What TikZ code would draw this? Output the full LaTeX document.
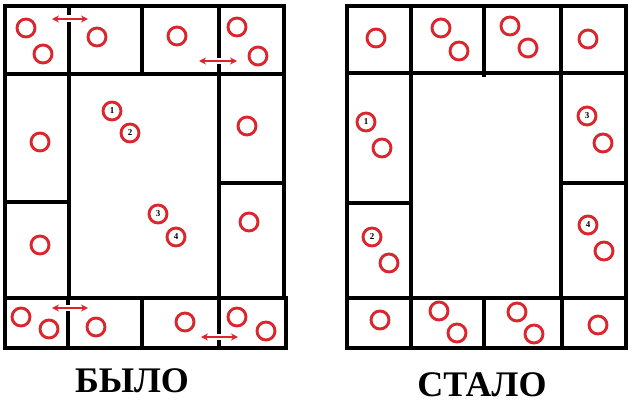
\documentclass[tikz,border=0pt]{standalone}
\usepackage{fontspec}
\setmainfont{Liberation Serif}
\usetikzlibrary{arrows.meta}
\definecolor{seatred}{RGB}{218,38,44}
\tikzset{
  wall/.style={line width=3.6pt, line cap=rect},
  seat/.style={circle, draw=seatred, line width=2.9pt, minimum size=18pt, inner sep=0pt, font=\fontsize{9}{9}\selectfont\bfseries},
  swap/.style={draw=seatred, line width=1.7pt, {Stealth[length=7pt,width=7pt]}-{Stealth[length=7pt,width=7pt]}},
  caption/.style={font=\fontsize{36}{36}\selectfont\bfseries}
}
\begin{document}
\begin{tikzpicture}[x=1pt,y=-1pt]
\useasboundingbox (0,0) rectangle (640,405);
% ---------- BEFORE ----------
\draw[wall] (5,6) -- (284,6);
\draw[wall] (5,6) -- (5,348) -- (286,348);
\draw[wall] (284,6) -- (284,298);
\draw[wall] (286,298) -- (286,348);
\draw[wall] (5,74) -- (284,74);
\draw[wall] (69,6) -- (69,13);
\draw[wall] (69,24) -- (69,298);
\draw[wall] (142,6) -- (142,74);
\draw[wall] (219,6) -- (219,56);
\draw[wall] (219,66) -- (219,298);
\draw[wall] (5,202) -- (69,202);
\draw[wall] (219,183) -- (284,183);
\draw[wall] (5,298) -- (286,298);
\draw[wall] (68,298) -- (68,303);
\draw[wall] (68,313) -- (68,348);
\draw[wall] (142,300) -- (142,348);
\draw[wall] (219,298) -- (219,332);
\draw[wall] (219,342) -- (219,348);
% swap arrows
\coordinate (a1l) at (52,19); \coordinate (a1r) at (88,19);
\coordinate (a2l) at (199,61); \coordinate (a2r) at (237,61);
\coordinate (a3l) at (52,308); \coordinate (a3r) at (88,308);
\coordinate (a4l) at (201,337); \coordinate (a4r) at (238,337);
\draw[swap] (a1l) -- (a1r);
\draw[swap] (a2l) -- (a2r);
\draw[swap] (a3l) -- (a3r);
\draw[swap] (a4l) -- (a4r);
% seats before
\node[seat] (b1) at (26,28) {};
\node[seat] (b2) at (43,54) {};
\node[seat] (b3) at (97,37) {};
\node[seat] (b4) at (177,36) {};
\node[seat] (b5) at (237,27) {};
\node[seat] (b6) at (258,56) {};
\node[seat] (b7) at (40,142) {};
\node[seat] (bn1) at (112,111) {1};
\node[seat] (bn2) at (130,133) {2};
\node[seat] (b8) at (247,126) {};
\node[seat] (b9) at (40,245) {};
\node[seat] (bn3) at (158,214) {3};
\node[seat] (bn4) at (176,237) {4};
\node[seat] (b10) at (249,222) {};
\node[seat] (b11) at (21,317) {};
\node[seat] (b12) at (49,329) {};
\node[seat] (b13) at (96,327) {};
\node[seat] (b14) at (185,322) {};
\node[seat] (b15) at (237,317) {};
\node[seat] (b16) at (266,331) {};
\node[caption] (before) at (132,381) {БЫЛО};
% ---------- AFTER ----------
\draw[wall] (347,6) rectangle (626,348);
\draw[wall] (347,73) -- (626,73);
\draw[wall] (411,6) -- (411,298);
\draw[wall] (484,6) -- (484,75);
\draw[wall] (561,6) -- (561,298);
\draw[wall] (347,203) -- (411,203);
\draw[wall] (561,183) -- (626,183);
\draw[wall] (347,298) -- (626,298);
\draw[wall] (411,298) -- (411,348);
\draw[wall] (484,300) -- (484,348);
\draw[wall] (562,298) -- (562,348);
% seats after
\node[seat] (c1) at (376,38) {};
\node[seat] (c2) at (441,28) {};
\node[seat] (c3) at (459,51) {};
\node[seat] (c4) at (510,26) {};
\node[seat] (c5) at (528,48) {};
\node[seat] (c6) at (588,39) {};
\node[seat] (cn1) at (366,122) {1};
\node[seat] (c7) at (382,148) {};
\node[seat] (cn3) at (587,116) {3};
\node[seat] (c8) at (603,143) {};
\node[seat] (cn2) at (372,237) {2};
\node[seat] (c9) at (389,263) {};
\node[seat] (cn4) at (588,225) {4};
\node[seat] (c10) at (604,251) {};
\node[seat] (c11) at (380,320) {};
\node[seat] (c12) at (439,311) {};
\node[seat] (c13) at (457,333) {};
\node[seat] (c14) at (517,312) {};
\node[seat] (c15) at (534,334) {};
\node[seat] (c16) at (598,325) {};
\node[caption] (after) at (482,385) {СТАЛО};
\end{tikzpicture}
\end{document}
